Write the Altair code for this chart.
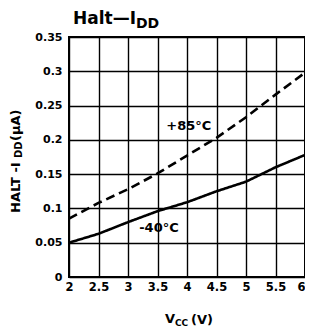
import altair as alt
import pandas as pd

vcc = [2, 2.5, 3, 3.5, 4, 4.5, 5, 5.5, 6]
idd_minus40 = [0.050, 0.063, 0.080, 0.096, 0.109, 0.125, 0.139, 0.160, 0.178]
idd_plus85 = [0.085, 0.108, 0.128, 0.151, 0.177, 0.203, 0.233, 0.266, 0.298]
series = ["-40°C", "+85°C"]
x_ticks = [2, 2.5, 3, 3.5, 4, 4.5, 5, 5.5, 6]
y_ticks = [0, 0.05, 0.1, 0.15, 0.2, 0.25, 0.3, 0.35]
label_x = [3.525, 4.03]
label_y = [0.0715, 0.220]

F = "DejaVu Sans"

df = pd.DataFrame({
    "vcc": vcc * 2,
    "idd": idd_minus40 + idd_plus85,
    "temp": [series[0]] * len(vcc) + [series[1]] * len(vcc),
})
labels = pd.DataFrame({"vcc": label_x, "idd": label_y, "temp": series})

xs = alt.Scale(domain=[2, 6], nice=False, zero=False)
ys = alt.Scale(domain=[0, 0.35], nice=False, zero=False)

x = alt.X("vcc:Q", scale=xs, axis=alt.Axis(values=x_ticks, format="~g", title=None,
          grid=True, ticks=False, domain=False, labelPadding=4, labelFontSize=11.5,
          labelFlush=False, labelOverlap=False,
          labelAlign={"expr": "datum.value == 6 ? 'right' : 'center'"}))
y = alt.Y("idd:Q", scale=ys, axis=alt.Axis(values=y_ticks, format="~g", title=None,
          grid=True, ticks=False, domain=False, labelPadding=7, labelFontSize=11,
          labelFlush=False, labelOverlap=False))

lines = alt.Chart(df).mark_line(color="black", strokeWidth=2.6).encode(
    x=x, y=y,
    strokeDash=alt.StrokeDash("temp:N", scale=alt.Scale(domain=series, range=[[1, 0], [9, 5]]), legend=None),
)

lab = alt.Chart(labels).mark_text(font=F, fontWeight="bold", fontSize=13, color="black",
                                  align="center", baseline="middle").encode(
    x=x, y=y, text="temp:N")

one = pd.DataFrame({"k": [0]})


def txt(s, px, py, size, angle=0):
    return alt.Chart(one).mark_text(text=s, font=F, fontWeight="bold", fontSize=size, color="black",
                                    align="left", baseline="alphabetic", angle=angle).encode(
        x=alt.value(px), y=alt.value(py))


texts = [
    txt("Halt—I", 4, -13, 17),
    txt("DD", 67, -9, 14),
    txt("HALT -I", -49.5, 176, 13, 270),
    txt("DD", -47, 121, 10, 270),
    txt(" (µA)", -49.5, 104, 13, 270),
    txt("V", 96, 285.5, 13),
    txt("CC", 106, 288.5, 9),
    txt("(V)", 122, 286.5, 13),
]

chart = alt.layer(lines, lab, *texts).properties(
    width=236, height=240,
    padding={"left": 61, "top": 29, "right": 0, "bottom": 50},
    autosize="none",
    background="white",
).configure_view(stroke="black", strokeWidth=2).configure_axis(
    gridColor="black", gridWidth=1.4, gridOpacity=1, labelFont=F, labelFontWeight="bold",
    labelColor="black",
)

chart.save("out.html", embed_options={"renderer": "svg", "actions": False})
